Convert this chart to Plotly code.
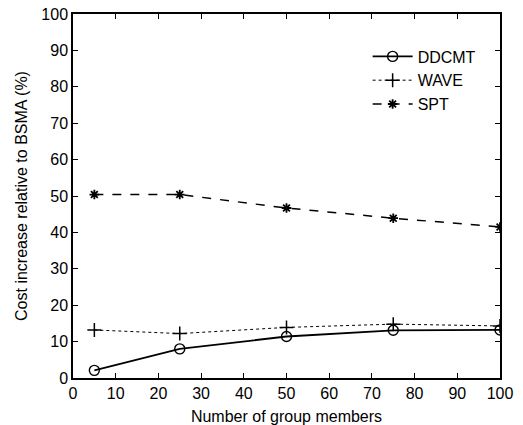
import plotly.graph_objects as go

members = [5, 25, 50, 75, 100]
ddcmt = [2.1, 8.0, 11.4, 13.1, 13.2]
wave = [13.2, 12.2, 13.9, 14.8, 14.3]
spt = [50.4, 50.4, 46.7, 43.9, 41.5]

x_ticks = [0, 10, 20, 30, 40, 50, 60, 70, 80, 90, 100]
y_ticks = [0, 10, 20, 30, 40, 50, 60, 70, 80, 90, 100]

fig = go.Figure()
fig.add_trace(go.Scatter(x=members, y=ddcmt, name="DDCMT", mode="lines+markers",
                         line=dict(color="black", width=1.8, dash="solid"),
                         marker=dict(symbol="circle-open", size=10, color="black", line=dict(width=1.4))))
fig.add_trace(go.Scatter(x=members, y=wave, name="WAVE", mode="lines+markers",
                         line=dict(color="black", width=1, dash="dot"),
                         marker=dict(symbol="cross-thin-open", size=10, color="black", line=dict(width=1.5))))
fig.add_trace(go.Scatter(x=members, y=spt, name="SPT", mode="lines+markers",
                         line=dict(color="black", width=1.5, dash="dash"),
                         marker=dict(symbol="asterisk-open", size=8, color="black", line=dict(width=1.8))))

font = dict(family="Liberation Sans, Arial, sans-serif", size=16, color="black")
axis_common = dict(showgrid=False, zeroline=False, showline=True, linecolor="black", linewidth=1.5,
                   mirror="ticks", ticks="inside", ticklen=5, tickcolor="black", tickwidth=1,
                   tickfont=font, automargin=False)

fig.update_layout(
    width=523, height=425,
    margin=dict(l=73, r=23, t=14, b=47),
    plot_bgcolor="white", paper_bgcolor="white",
    font=font,
    showlegend=True,
    legend=dict(x=0.69, y=0.93, xanchor="left", yanchor="top", bgcolor="rgba(0,0,0,0)",
                font=font, tracegroupgap=0, itemwidth=40),
    xaxis=dict(range=[0, 100], tickvals=x_ticks, ticktext=[str(v) for v in x_ticks],
               title=dict(text="Number of group members", font=font, standoff=20), **axis_common),
    yaxis=dict(range=[0, 100], tickvals=y_ticks, ticktext=[str(v) for v in y_ticks],
               title=dict(text="Cost increase relative to BSMA (%)", font=font, standoff=10), **axis_common),
)

fig.write_html("out.html", config={"displayModeBar": False},
               post_script="document.body.style.margin='0';")
